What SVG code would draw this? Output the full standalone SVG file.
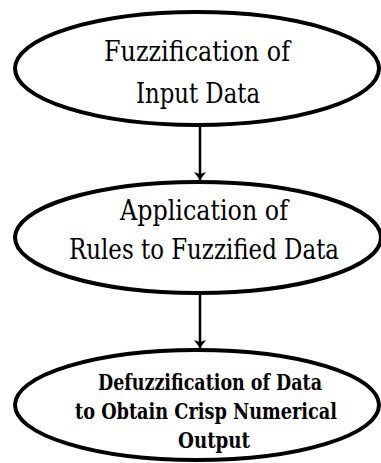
<svg xmlns="http://www.w3.org/2000/svg" width="381" height="463" viewBox="0 0 381 463">
  <style>
    .shape { fill: #ffffff; stroke: #000000; stroke-width: 4; }
    .edge { stroke: #000000; stroke-width: 2.5; fill: none; }
    .label { font-family: 'DejaVu Serif', serif; font-size: 27px; fill: #000000; text-anchor: middle; }
    .label-bold { font-family: 'DejaVu Serif', serif; font-size: 22px; font-weight: bold; fill: #000000; text-anchor: middle; }
  </style>
  <defs>
    <marker id="arrowhead" markerWidth="8" markerHeight="12" refX="8" refY="6" orient="auto" markerUnits="userSpaceOnUse">
      <path d="M0,0 L8,6 L0,12 L2,6 Z" fill="#000000"/>
    </marker>
  </defs>
  <rect width="381" height="463" fill="#ffffff"/>

  <!-- connectors between the process steps -->
  <g id="connectors">
    <line class="edge" x1="200" y1="126" x2="200" y2="180" marker-end="url(#arrowhead)"/>
    <line class="edge" x1="200" y1="294" x2="200" y2="348" marker-end="url(#arrowhead)"/>
  </g>

  <g id="node-fuzzification">
    <ellipse class="shape" cx="197" cy="68.5" rx="182" ry="56.5"/>
    <text class="label" x="197" y="61" textLength="186" lengthAdjust="spacingAndGlyphs">Fuzzification of</text>
    <text class="label" x="198" y="103" textLength="124" lengthAdjust="spacingAndGlyphs">Input Data</text>
  </g>

  <g id="node-rules">
    <ellipse class="shape" cx="198" cy="237.5" rx="183" ry="55.5"/>
    <text class="label" x="204" y="220" textLength="168" lengthAdjust="spacingAndGlyphs">Application of</text>
    <text class="label" x="204" y="259" textLength="270" lengthAdjust="spacingAndGlyphs">Rules to Fuzzified Data</text>
  </g>

  <g id="node-defuzzification">
    <ellipse class="shape" cx="197" cy="405" rx="182" ry="55"/>
    <text class="label-bold" x="210" y="390" textLength="224" lengthAdjust="spacingAndGlyphs">Defuzzification of Data</text>
    <text class="label-bold" x="206" y="419" textLength="262" lengthAdjust="spacingAndGlyphs">to Obtain Crisp Numerical</text>
    <text class="label-bold" x="214" y="448" textLength="72" lengthAdjust="spacingAndGlyphs">Output</text>
  </g>
</svg>
